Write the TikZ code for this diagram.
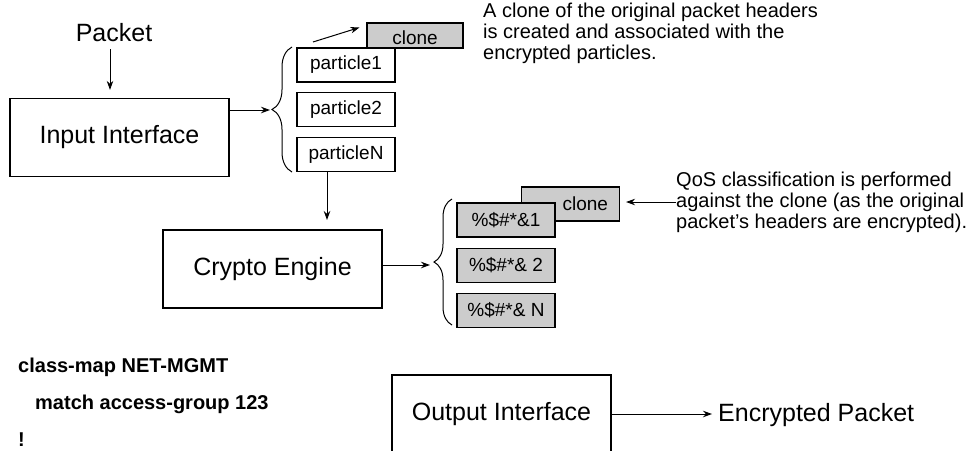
\documentclass[tikz,border=0pt]{standalone}
\usepackage{fontspec}
\setmainfont{Liberation Sans}
\usetikzlibrary{arrows.meta,positioning,decorations.pathreplacing}

\begin{document}
\begin{tikzpicture}[x=1pt,y=-1pt,every node/.style={inner sep=0pt},big/.style={font=\fontsize{25}{30}\selectfont},note/.style={font=\fontsize{20}{21}\selectfont,align=left,anchor=west},code/.style={font=\fontsize{20}{24}\selectfont\bfseries,anchor=west},unit/.style={draw,line width=1.2pt,minimum width=219pt,minimum height=78pt,big},part/.style={draw,line width=1.1pt,fill=white,minimum width=98pt,minimum height=34pt,font=\fontsize{19}{22}\selectfont},enc/.style={part,fill=gray!40},arrow/.style={-{Stealth[length=9pt,width=6.5pt]},line width=1pt},curly/.style={decorate,decoration={brace,amplitude=#1},line width=1pt}]
\clip (0,0) rectangle (966,450);
% input side
\node[big] (pkt) at (114,33) {Packet};
\node[unit] (in) at (119.5,137.5) {Input Interface};
\draw[arrow,shorten <=7pt,shorten >=8pt] ([xshift=-4pt]pkt.south) -- ([xshift=-4pt]pkt.south |- in.north);
\node[enc,minimum width=96pt,minimum height=25pt,text height=17pt,text depth=0pt] (cl1) at (415,35.5) {clone};
\node[part] (p1) at (346,65) {particle1};
\node[part,below=9.5pt of p1] (p2) {particle2};
\node[part,below=9.5pt of p2] (pN) {particleN};
\coordinate (b1) at (270,110);
\draw[arrow] (in.east |- b1) -- (b1);
\draw[curly=20pt] (292,172) -- (292,47);
\coordinate (cs) at (313,42);
\draw[arrow] (cs) -- ([xshift=-7pt,yshift=8pt]cl1.west);
\node[note] (n1) at (483,33) {A clone of the original packet headers\\is created and associated with the\\encrypted particles.};
% crypto engine
\coordinate (ce) at (327,220);
\draw[arrow] (pN.south -| ce) -- (ce);
\node[unit] (cr) at (272.5,269) {Crypto Engine};
\coordinate (b2) at (430,265);
\draw[arrow] (cr.east |- b2) -- (b2);
\draw[curly=18pt] (452,325) -- (452,199);
\node[enc,text width=75pt,align=right] (cl2) at (570.5,204) {clone};
\node[enc] (e1) at (506,220) {\%\$\#*\&1};
\node[enc,below=10pt of e1] (e2) {\%\$\#*\& 2};
\node[enc,below=10pt of e2] (e3) {\%\$\#*\& N};
\node[note] (n2) at (676,202) {QoS classification is performed\\against the clone (as the original\\packet's headers are encrypted).};
\draw[arrow,shorten >=6pt] (n2.west) -- (n2.west -| cl2.east);
% output side
\node[code] (cm1) at (18,367) {class-map NET-MGMT};
\node[code] (cm2) at (35,404) {match access-group 123};
\node[code] (cm3) at (18,440) {!};
\node[unit] (out) at (501.5,414) {Output Interface};
\node[big,anchor=west] (ep) at (718,415) {Encrypted Packet};
\draw[arrow,shorten >=6pt] (out.east) -- (out.east -| ep.west);
\end{tikzpicture}
\end{document}
